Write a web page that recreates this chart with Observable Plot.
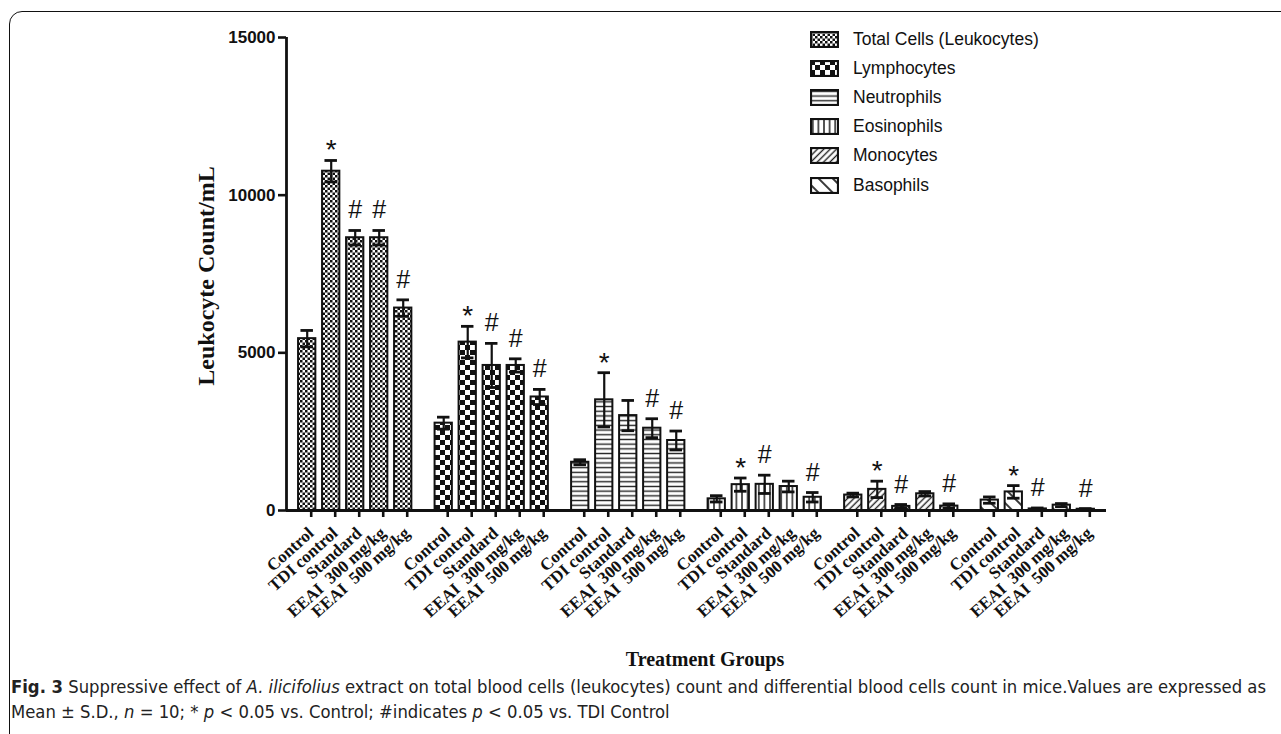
<!DOCTYPE html>
<html>
<head>
<meta charset="utf-8">
<script src="https://cdn.jsdelivr.net/npm/d3@7"></script>
<script src="https://cdn.jsdelivr.net/npm/@observablehq/plot@0.6"></script>
<style>
html, body { margin: 0; padding: 0; background: #fff; overflow: hidden; }
#wrap { position: relative; width: 1281px; height: 734px; overflow: hidden; background: #fff; }
#border { position: absolute; left: 9px; top: 11px; width: 1400px; height: 800px; border: 1.6px solid #111; border-radius: 13px; box-sizing: border-box; pointer-events: none; }
#chart { position: absolute; left: 0; top: 0; }
#legend { position: absolute; left: 0; top: 0; font-family: "Liberation Sans", Arial, sans-serif; font-size: 17.5px; color: #111; }
.row { position: absolute; display: flex; align-items: center; white-space: nowrap; height: 22px; }
.row svg { margin-right: 14px; }
#ylabel { position: absolute; left: 206px; top: 276px; transform: translate(-50%, -50%) rotate(-90deg); font-family: "Liberation Serif", "Times New Roman", serif; font-weight: bold; font-size: 24px; white-space: nowrap; color: #111; }
#xlabel { position: absolute; left: 705px; top: 659px; transform: translate(-50%, -50%); font-family: "Liberation Serif", "Times New Roman", serif; font-weight: bold; font-size: 20px; white-space: nowrap; color: #111; }
.cap { position: absolute; left: 11px; font-family: "Liberation Sans Narrow", "DejaVu Sans Condensed", "Liberation Sans", sans-serif; font-size: 18px; color: #222; white-space: nowrap; transform-origin: 0 50%; }
</style>
</head>
<body>
<div id="wrap">
<svg width="0" height="0" style="position:absolute">
  <defs>
    <pattern id="pTotal" patternUnits="userSpaceOnUse" width="5" height="5">
      <rect width="5" height="5" fill="#fff"/>
      <rect width="2.5" height="2.5" fill="#111"/>
      <rect x="2.5" y="2.5" width="2.5" height="2.5" fill="#111"/>
    </pattern>
    <pattern id="pLymph" patternUnits="userSpaceOnUse" width="10" height="10">
      <rect width="10" height="10" fill="#fff"/>
      <rect width="5" height="5" fill="#111"/>
      <rect x="5" y="5" width="5" height="5" fill="#111"/>
    </pattern>
    <pattern id="pNeut" patternUnits="userSpaceOnUse" width="8" height="4.7">
      <rect width="8" height="4.7" fill="#fff"/>
      <line x1="0" y1="2.35" x2="8" y2="2.35" stroke="#222" stroke-width="1.4"/>
    </pattern>
    <pattern id="pEos" patternUnits="userSpaceOnUse" width="5.6" height="8">
      <rect width="5.6" height="8" fill="#fff"/>
      <line x1="2.8" y1="0" x2="2.8" y2="8" stroke="#222" stroke-width="1.5"/>
    </pattern>
    <pattern id="pMono" patternUnits="userSpaceOnUse" width="4.5" height="4.5" patternTransform="rotate(45)">
      <rect width="4.5" height="4.5" fill="#fff"/>
      <line x1="2.25" y1="0" x2="2.25" y2="4.5" stroke="#222" stroke-width="1.4"/>
    </pattern>
    <pattern id="pBaso" patternUnits="userSpaceOnUse" width="10" height="10" patternTransform="rotate(-45)">
      <rect width="10" height="10" fill="#fff"/>
      <line x1="5" y1="0" x2="5" y2="10" stroke="#222" stroke-width="1.8"/>
    </pattern>
  </defs>
</svg>
<div id="chart"></div>
<div id="legend"></div>
<div id="ylabel">Leukocyte Count/mL</div>
<div id="xlabel">Treatment Groups</div>
<div class="cap" id="cap1" style="top:676px"><b>Fig. 3</b> Suppressive effect of <i>A. ilicifolius</i> extract on total blood cells (leukocytes) count and differential blood cells count in mice.Values are expressed as</div>
<div class="cap" id="cap2" style="top:701px">Mean ± S.D., <i>n</i> = 10; * <i>p</i> &lt; 0.05 vs. Control; #indicates <i>p</i> &lt; 0.05 vs. TDI Control</div>
<div id="border"></div>
</div>
<script>
// ---- data ----
const groups = ["Total Cells (Leukocytes)", "Lymphocytes", "Neutrophils", "Eosinophils", "Monocytes", "Basophils"];
const treatments = ["Control", "TDI control", "Standard", "EEAI  300 mg/kg", "EEAI  500 mg/kg"];
const totalMean = [5450, 10760, 8650, 8650, 6420];
const totalSD   = [260, 340, 230, 230, 260];
const lymphMean = [2770, 5340, 4600, 4600, 3600];
const lymphSD   = [190, 500, 700, 210, 240];
const neutMean  = [1530, 3510, 3010, 2610, 2220];
const neutSD    = [80, 860, 480, 300, 300];
const eosMean   = [370, 820, 830, 760, 420];
const eosSD     = [100, 210, 290, 170, 150];
const monoMean  = [490, 670, 130, 530, 140];
const monoSD    = [60, 260, 60, 70, 70];
const basoMean  = [330, 590, 50, 170, 40];
const basoSD    = [100, 200, 30, 50, 20];
const totalSig  = ["", "*", "#", "#", "#"];
const lymphSig  = ["", "*", "#", "#", "#"];
const neutSig   = ["", "*", "", "#", "#"];
const eosSig    = ["", "*", "#", "", "#"];
const monoSig   = ["", "*", "#", "", "#"];
const basoSig   = ["", "*", "#", "", "#"];
const yTicks = [0, 5000, 10000, 15000];
const patternIds = ["pTotal", "pLymph", "pNeut", "pEos", "pMono", "pBaso"];

const means = [totalMean, lymphMean, neutMean, eosMean, monoMean, basoMean];
const sds = [totalSD, lymphSD, neutSD, eosSD, monoSD, basoSD];
const sigs = [totalSig, lymphSig, neutSig, eosSig, monoSig, basoSig];

// slot layout: 5 bars per group, group gap of ~0.69 slot
const groupPitch = 5.6875;
const xDomain = [-0.8625, 33.3];
const data = [];
groups.forEach((g, gi) => treatments.forEach((t, ti) => {
  data.push({group: g, treatment: t, p: gi * groupPitch + ti, value: means[gi][ti], sd: sds[gi][ti], sig: sigs[gi][ti]});
}));
const labelByP = new Map(data.map(d => [d.p, d.treatment]));
const half = 0.36, cap = 0.26;

const chart = Plot.plot({
  width: 1281, height: 640,
  marginLeft: 286, marginRight: 175, marginTop: 37, marginBottom: 130,
  x: {type: "linear", domain: xDomain, axis: null},
  y: {domain: [0, 15000], axis: null},
  color: {type: "ordinal", domain: groups, range: patternIds.map(id => `url(#${id})`)},
  style: {background: "transparent", overflow: "visible"},
  marks: [
    Plot.rect(data, {x1: d => d.p - half, x2: d => d.p + half, y1: 0, y2: "value", fill: "group", stroke: "#111", strokeWidth: 2}),
    Plot.ruleX(data, {x: "p", y1: d => Math.max(0, d.value - d.sd), y2: d => d.value + d.sd, stroke: "#111", strokeWidth: 2.2}),
    Plot.ruleY(data, {y: d => d.value + d.sd, x1: d => d.p - cap, x2: d => d.p + cap, stroke: "#111", strokeWidth: 2.8}),
    Plot.ruleY(data.filter(d => d.value - d.sd > 0), {y: d => d.value - d.sd, x1: d => d.p - cap, x2: d => d.p + cap, stroke: "#111", strokeWidth: 2.8}),
    Plot.ruleY([0], {stroke: "#111", strokeWidth: 2.8}),
    Plot.ruleX([xDomain[0]], {y1: 0, y2: 15000, stroke: "#111", strokeWidth: 2.8}),
    Plot.axisY({ticks: yTicks, tickFormat: d3.format("d"), tickSize: 8, tickPadding: 3, strokeWidth: 2.6, stroke: "#111",
      fontSize: 17, fontWeight: "bold", fontFamily: "'Liberation Sans', Arial, sans-serif", fill: "#111", label: null}),
    Plot.axisX({ticks: data.map(d => d.p), tickFormat: p => labelByP.get(p), tickRotate: -42, tickSize: 7, tickPadding: 13, dx: 4,
      strokeWidth: 2.6, stroke: "#111", fontSize: 17, fontWeight: "bold", fontFamily: "'Liberation Serif', 'Times New Roman', serif", fill: "#111", label: null}),
    Plot.text(data.filter(d => d.sig === "*"), {x: "p", y: d => d.value + d.sd, text: "sig", dy: -10, fontSize: 28, fontFamily: "'Liberation Sans', Arial, sans-serif", fill: "#111"}),
    Plot.text(data.filter(d => d.sig === "#"), {x: "p", y: d => d.value + d.sd, text: "sig", dy: -20, fontSize: 25, fontFamily: "'Liberation Sans', Arial, sans-serif", fill: "#111"})
  ]
});
document.getElementById("chart").appendChild(chart);
chart.querySelectorAll("text").forEach(t => t.setAttribute("xml:space", "preserve"));
chart.setAttribute("style", (chart.getAttribute("style") || "") + ";white-space:pre;");

// legend
const legend = document.getElementById("legend");
groups.forEach((g, i) => {
  const row = document.createElement("div");
  row.className = "row";
  row.style.left = "810px";
  row.style.top = (39 + i * 29.2 - 11) + "px";
  row.innerHTML = `<svg width="29" height="17"><rect x="1" y="1" width="27" height="15" fill="url(#${patternIds[i]})" stroke="#111" stroke-width="2.2"/></svg><span>${g}</span>`;
  legend.appendChild(row);
});

// fit caption width
const c1 = document.getElementById("cap1"), c2 = document.getElementById("cap2");
const w1 = c1.getBoundingClientRect().width;
const s = 1255 / w1;
c1.style.transform = `scaleX(${s})`;
c2.style.transform = `scaleX(${s})`;
</script>
</body>
</html>
